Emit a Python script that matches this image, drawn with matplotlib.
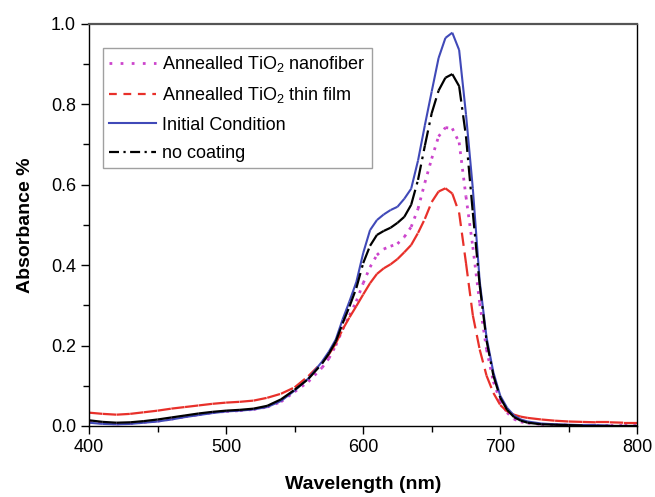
import matplotlib
matplotlib.use("Agg")
import matplotlib.pyplot as plt
from matplotlib.ticker import MultipleLocator, FormatStrFormatter
from matplotlib.collections import LineCollection
from matplotlib.lines import Line2D

plt.rcParams['font.family'] = ['Liberation Sans', 'DejaVu Sans']
plt.rcParams['mathtext.fontset'] = 'custom'
plt.rcParams['mathtext.rm'] = 'Liberation Sans'
plt.rcParams['mathtext.it'] = 'Liberation Sans'

wavelength = [400, 410, 420, 430, 440, 450, 460, 470, 480, 490, 500, 510, 520, 530, 540,
              550, 560, 570, 575, 580, 585, 590, 595, 600, 605, 610, 615, 620, 625, 630,
              635, 640, 645, 650, 655, 660, 665, 670, 675, 680, 685, 690, 695, 700, 705,
              710, 715, 720, 730, 740, 750, 760, 770, 780, 790, 800]

nanofiber = [0.010, 0.007, 0.005, 0.006, 0.009, 0.012, 0.017, 0.023, 0.028, 0.033, 0.036, 0.038,
             0.041, 0.047, 0.060, 0.085, 0.110, 0.145, 0.168, 0.200, 0.240, 0.275, 0.310, 0.355,
             0.395, 0.425, 0.440, 0.447, 0.453, 0.470, 0.495, 0.540, 0.605, 0.665, 0.720, 0.742,
             0.740, 0.705, 0.570, 0.445, 0.305, 0.190, 0.110, 0.062, 0.033, 0.017, 0.010, 0.007,
             0.004, 0.003, 0.002, 0.002, 0.002, 0.002, 0.002, 0.002]

thin_film = [0.033, 0.030, 0.028, 0.030, 0.034, 0.038, 0.043, 0.047, 0.051, 0.055, 0.058, 0.060,
             0.063, 0.070, 0.080, 0.096, 0.124, 0.158, 0.178, 0.205, 0.240, 0.270, 0.298, 0.327,
             0.355, 0.378, 0.392, 0.402, 0.415, 0.432, 0.450, 0.480, 0.515, 0.557, 0.583, 0.591,
             0.578, 0.530, 0.405, 0.275, 0.190, 0.125, 0.082, 0.052, 0.036, 0.028, 0.023, 0.020,
             0.016, 0.013, 0.011, 0.010, 0.009, 0.009, 0.008, 0.008]

initial = [0.008, 0.005, 0.004, 0.005, 0.008, 0.011, 0.016, 0.022, 0.027, 0.032, 0.036, 0.038,
           0.041, 0.047, 0.062, 0.088, 0.118, 0.160, 0.185, 0.215, 0.265, 0.310, 0.358, 0.430,
           0.487, 0.512, 0.526, 0.537, 0.545, 0.565, 0.590, 0.660, 0.748, 0.832, 0.915, 0.965,
           0.978, 0.935, 0.775, 0.590, 0.360, 0.220, 0.133, 0.075, 0.045, 0.026, 0.016, 0.011,
           0.006, 0.004, 0.003, 0.002, 0.002, 0.001, 0.001, 0.001]

no_coating = [0.014, 0.010, 0.008, 0.009, 0.012, 0.016, 0.021, 0.026, 0.031, 0.035, 0.038, 0.040,
              0.043, 0.050, 0.066, 0.090, 0.117, 0.155, 0.180, 0.210, 0.255, 0.297, 0.343, 0.405,
              0.448, 0.475, 0.485, 0.493, 0.505, 0.520, 0.550, 0.612, 0.697, 0.778, 0.834, 0.866,
              0.875, 0.845, 0.720, 0.530, 0.350, 0.212, 0.125, 0.070, 0.040, 0.022, 0.013, 0.008,
              0.004, 0.003, 0.002, 0.001, 0.001, 0.001, 0.001, 0.001]

labels = ['Annealled TiO$_2$ nanofiber', 'Annealled TiO$_2$ thin film',
          'Initial Condition', 'no coating']

styles = [
    dict(color='#cc44cc', ls=(0, (1, 2.2)), leg_ls=(0, (1, 3.0)), lw=2.0),
    dict(color='#e8302a', ls=(0, (6, 3)), leg_ls=(0, (3.5, 3.0)), lw=1.6),
    dict(color='#4049b8', ls='-', leg_ls='-', lw=1.5),
    dict(color='black', ls=(0, (7, 2.5, 1.2, 2.5)), leg_ls=(0, (4.5, 2.0, 1.0, 2.0)), lw=1.6),
]
series = [nanofiber, thin_film, initial, no_coating]

fig = plt.figure(figsize=(6.55, 4.97), dpi=100)
ax = fig.add_axes([0.136, 0.143, 0.837, 0.809])

handles = []
for vals, st, lab in zip(series, styles, labels):
    # dash pattern restarts on every segment, as in the original plotting software
    segs = [[(wavelength[i], vals[i]), (wavelength[i + 1], vals[i + 1])]
            for i in range(len(wavelength) - 1)]
    lc = LineCollection(segs, colors=st['color'], linestyles=[st['ls']],
                        linewidths=st['lw'], capstyle='butt')
    ax.add_collection(lc)
    handles.append(Line2D([], [], color=st['color'], linestyle=st['leg_ls'],
                          linewidth=st['lw'], label=lab))

ax.set_xlim(400, 800)
ax.set_ylim(0, 1.0)
ax.xaxis.set_major_locator(MultipleLocator(100))
ax.xaxis.set_minor_locator(MultipleLocator(50))
ax.yaxis.set_major_locator(MultipleLocator(0.2))
ax.yaxis.set_minor_locator(MultipleLocator(0.1))
ax.yaxis.set_major_formatter(FormatStrFormatter('%.1f'))
ax.tick_params(which='both', direction='out', top=False, right=False, labelsize=13, width=1.0)
ax.tick_params(which='major', length=6)
ax.tick_params(which='minor', length=4)
for s in ax.spines.values():
    s.set_linewidth(1.0)
ax.spines['top'].set_color('#555555')
ax.spines['top'].set_linewidth(1.6)

ax.set_xlabel('Wavelength (nm)', fontsize=14, fontweight='bold', labelpad=14)
ax.set_ylabel('Absorbance %', fontsize=14, fontweight='bold', labelpad=12)

leg = ax.legend(handles=handles, loc='upper left', bbox_to_anchor=(0.0255, 0.94), fontsize=13,
                handlelength=2.6, handletextpad=0.3, borderpad=0.35, labelspacing=0.62,
                fancybox=False, frameon=True, borderaxespad=0.0)
leg.get_frame().set_edgecolor('#888888')
leg.get_frame().set_linewidth(1.0)

fig.savefig('out.png', dpi=100)
